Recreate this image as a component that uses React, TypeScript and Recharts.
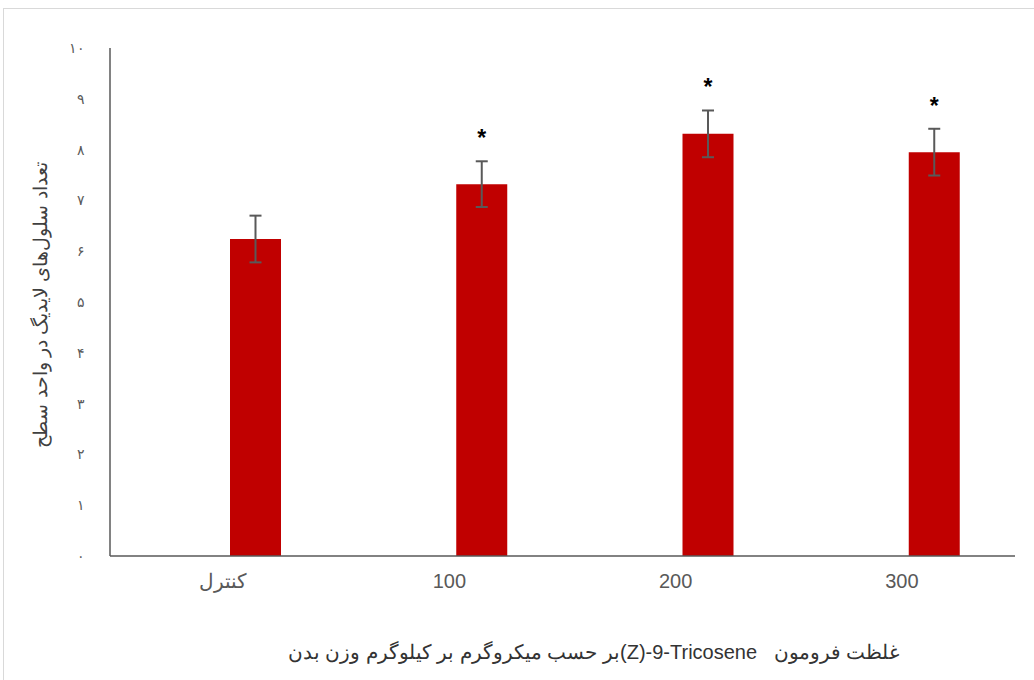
import { BarChart, Bar, XAxis, YAxis, ErrorBar, LabelList } from 'recharts';

const categories = ['کنترل', '100', '200', '300'];
const meanValues = [6.24, 7.32, 8.31, 7.95];
const errorValues = [0.46, 0.45, 0.46, 0.46];
const significance = ['', '*', '*', '*'];
const yTicks = [0, 1, 2, 3, 4, 5, 6, 7, 8, 9, 10];

const data = categories.map((cat, i) => ({
  cat,
  blank: null,
  value: meanValues[i],
  err: errorValues[i],
  sig: significance[i],
}));

const toPersian = (n: number): string =>
  String(n).replace(/\d/g, (d) => '۰۱۲۳۴۵۶۷۸۹'[Number(d)]);

const barColor = '#c00000';
const axisColor = '#595959';
const font = '"Liberation Sans", Arial, sans-serif';

const AsteriskLabel = (props: any) => {
  const { x, y, width, height, index } = props;
  const mark = significance[index];
  if (!mark) return null;
  const perUnit = height / meanValues[index];
  const errTop = y - errorValues[index] * perUnit;
  return (
    <text
      x={x + width / 2}
      y={errTop - 27 + 12}
      textAnchor="middle"
      fontFamily={font}
      fontSize={23}
      fontWeight="bold"
      fill="#000"
    >
      {mark}
    </text>
  );
};

const YTitle = () => (
  <text
    x={40}
    y={305}
    transform="rotate(-90 40 305)"
    textAnchor="middle"
    dominantBaseline="central"
    direction="rtl"
    fontFamily={font}
    fontSize={19}
    fill="#404040"
  >
    تعداد سلول‌های لایدیگ در واحد سطح
  </text>
);

export default function App() {
  return (
    <div style={{ position: 'absolute', left: 0, top: 0, width: 1034, height: 680, background: '#fff', overflow: 'hidden' }}>
      <div style={{ position: 'absolute', left: 3, top: 8, width: 1060, height: 700, border: '1px solid #d9d9d9', boxSizing: 'border-box' }} />
      <div style={{ position: 'absolute', left: 0, top: 0 }}>
        <BarChart
          width={1034}
          height={680}
          data={data}
          margin={{ top: 48, right: 19, left: 0, bottom: 0 }}
          barSize={51}
          barGap={13}
        >
          <XAxis
            dataKey="cat"
            height={124}
            axisLine={{ stroke: axisColor, strokeWidth: 1.5 }}
            tickLine={false}
            tickMargin={12}
            tick={{ fill: axisColor, fontSize: 20, fontFamily: font }}
            label={{
              value: 'غلظت فرومون\u00A0\u00A0\u00A0\u200E(Z)-9-Tricosene\u200Eبر حسب میکروگرم بر کیلوگرم وزن بدن',
              position: 'insideBottom',
              offset: 21,
              fill: '#333',
              fontSize: 20,
              fontFamily: font,
              direction: 'rtl',
              dx: 31,
            }}
          />
          <YAxis
            width={110}
            domain={[0, 10]}
            ticks={yTicks}
            interval={0}
            axisLine={{ stroke: axisColor, strokeWidth: 1.5 }}
            tickLine={false}
            tickMargin={19}
            tickFormatter={toPersian}
            tick={{ fill: axisColor, fontSize: 14, fontFamily: font }}
            label={<YTitle />}
          />
          <Bar dataKey="blank" fill={barColor} isAnimationActive={false} />
          <Bar dataKey="value" fill={barColor} isAnimationActive={false}>
            <ErrorBar dataKey="err" width={6} stroke={axisColor} strokeWidth={2} direction="y" />
            <LabelList dataKey="sig" content={<AsteriskLabel />} />
          </Bar>
        </BarChart>
      </div>
    </div>
  );
}
